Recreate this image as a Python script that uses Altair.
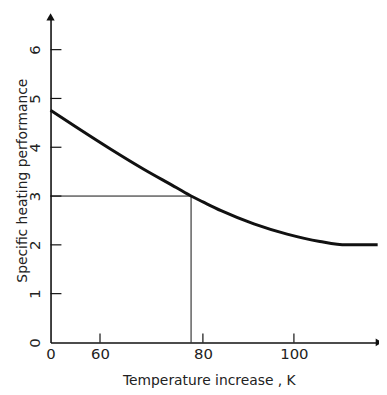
import altair as alt
import pandas as pd

# curve data
temp_k = [50, 55.4, 62.1, 68.5, 74.9, 77.7, 80, 84.0, 91.2, 98.5, 105.8, 111.7, 118.7]
performance = [4.76, 4.40, 3.96, 3.55, 3.17, 3.0, 2.88, 2.70, 2.43, 2.22, 2.07, 2.0, 2.0]

x_ticks = [50, 60, 80, 100]
y_ticks = [0, 1, 2, 3, 4, 5, 6]
marker_t = 77.7
marker_p = 3.0

X_DOMAIN = [50, 60, 80, 100, 119]
X_RANGE = [0, 50, 154, 246, 332]
Y_MAX = 6.67

FONT = "DejaVu Sans"
INK = "#111111"

curve = pd.DataFrame({"t": temp_k, "p": performance})

xs = alt.Scale(domain=X_DOMAIN, range=X_RANGE, nice=False, zero=False)
ys = alt.Scale(domain=[0, Y_MAX], nice=False)

x_axis = alt.Axis(
    values=x_ticks, ticks=False, grid=False, labelExpr="datum.value == 50 ? '0' : datum.label",
    domainColor=INK, domainWidth=1.6, labelFont=FONT, labelFontSize=15, labelColor="#222",
    labelPadding=4, title="Temperature increase , K", titleFont=FONT, titleFontSize=14,
    titleFontWeight="normal", titleColor="#222", titlePadding=13, labelFlush=False,
    titleX=160,
)
y_axis = alt.Axis(
    values=y_ticks, ticks=False, grid=False, labelAngle=-90, labelAlign="center",
    labelBaseline="bottom", domainColor=INK, domainWidth=1.6, labelFont=FONT,
    labelFontSize=15, labelColor="#222", labelPadding=8, title="Specific heating performance",
    titleFont=FONT, titleFontSize=14, titleFontWeight="normal", titleColor="#222",
    titleBaseline="middle", titleAlign="center", titleX=-28, titleY=165, labelFlush=False,
)

line = alt.Chart(curve).mark_line(interpolate="monotone", color=INK, strokeWidth=3).encode(
    x=alt.X("t:Q", scale=xs, axis=x_axis),
    y=alt.Y("p:Q", scale=ys, axis=y_axis),
)

hline = alt.Chart(pd.DataFrame({"a": [X_DOMAIN[0]], "b": [marker_t], "p": [marker_p]})).mark_rule(
    color=INK, strokeWidth=1
).encode(x=alt.X("a:Q", scale=xs), x2="b:Q", y=alt.Y("p:Q", scale=ys))

vline = alt.Chart(pd.DataFrame({"t": [marker_t], "a": [0], "b": [marker_p]})).mark_rule(
    color=INK, strokeWidth=1
).encode(x=alt.X("t:Q", scale=xs), y=alt.Y("a:Q", scale=ys), y2="b:Q")

ytick_rules = alt.Chart(pd.DataFrame({"p": y_ticks[1:]})).mark_rule(color=INK, strokeWidth=1.2).encode(
    y=alt.Y("p:Q", scale=ys), x=alt.value(0), x2=alt.value(11)
)
xtick_rules = alt.Chart(pd.DataFrame({"t": x_ticks[1:]})).mark_rule(color=INK, strokeWidth=1.2).encode(
    x=alt.X("t:Q", scale=xs), y=alt.value(329), y2=alt.value(320)
)

arrow_up = alt.Chart(pd.DataFrame({"t": [X_DOMAIN[0]], "p": [Y_MAX]})).mark_point(
    shape="triangle-up", filled=True, color=INK, size=70, opacity=1
).encode(x=alt.X("t:Q", scale=xs), y=alt.Y("p:Q", scale=ys))

arrow_right = alt.Chart(pd.DataFrame({"t": [X_DOMAIN[-1]], "p": [0]})).mark_point(
    shape="triangle-right", filled=True, color=INK, size=60, opacity=1
).encode(x=alt.X("t:Q", scale=xs), y=alt.Y("p:Q", scale=ys))

chart = alt.layer(hline, vline, ytick_rules, xtick_rules, line, arrow_up, arrow_right).properties(
    width=332, height=329,
    autosize=alt.AutoSizeParams(type="none"),
    padding={"left": 43, "top": 7, "right": 0, "bottom": 45},
    background="white",
).configure_view(stroke=None)

chart.save("out.html", embed_options={"renderer": "svg", "actions": False})
